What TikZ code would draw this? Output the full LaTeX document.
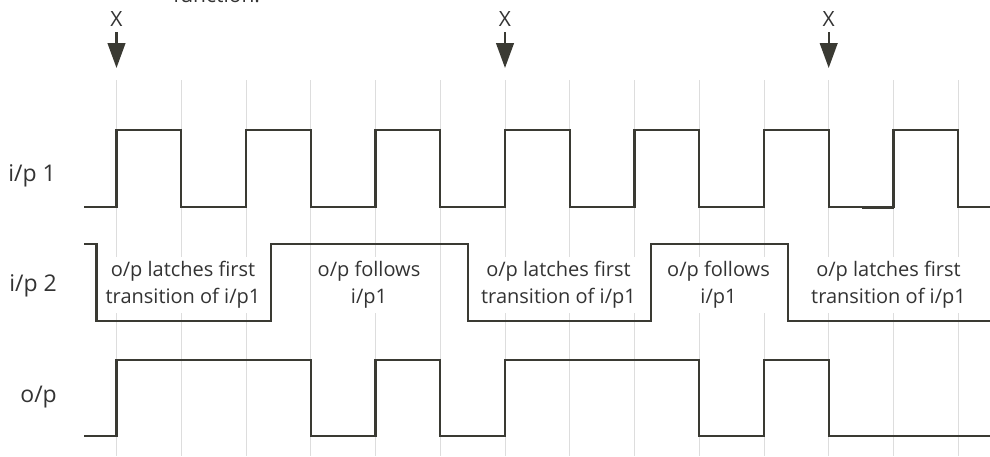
\documentclass[tikz,border=0pt]{standalone}
\usepackage{fontspec}
\setmainfont{Open Sans}
\usetikzlibrary{arrows.meta}
\definecolor{wave}{HTML}{3A3A33}
\definecolor{gridc}{HTML}{DDDDDD}
\definecolor{txt}{HTML}{333333}
\tikzset{
  wavestyle/.style={draw=wave, line width=2.4pt, line join=miter},
  gridline/.style={draw=gridc, line width=1pt},
  xarrow/.style={draw=wave, line width=2.4pt, -{Triangle[length=25pt,width=17.6pt]}},
  lab/.style={text=txt, font=\fontsize{21}{27}\selectfont, inner sep=0pt},
  rowlab/.style={text=txt, font=\fontsize{23}{27}\selectfont, inner sep=0pt},
  blocktxt/.style={text=txt, font=\fontsize{20}{27}\selectfont, align=center, fill=white, inner xsep=3pt, inner ysep=4pt},
}
\begin{document}
\begin{tikzpicture}[x=1pt,y=-1pt]
\useasboundingbox (0,0) rectangle (990,456);
% grid
\foreach \k in {0,...,13}{
  \draw[gridline] ({116.5+64.75*\k},80) -- ({116.5+64.75*\k},456);
}
% cut-off text at top
\node[lab, anchor=base west] (fn) at (173,2) {function.};
% X markers
\foreach \n/\xx in {1/116.5,2/505,3/828.7}{
  \node[lab, anchor=base] (x\n) at (\xx,26) {X};
  \coordinate (t\n) at (\xx,68);
  \draw[xarrow] (\xx,32) -- (t\n);
}
% row labels
\node[rowlab, anchor=base east] (l1) at (56,181) {i/p 1};
\node[rowlab, anchor=base east] (l2) at (57,291) {i/p 2};
\node[rowlab, anchor=base east] (l3) at (57,402) {o/p};
% i/p 1
\draw[wavestyle] (84,207) -- (116.5,207) -- (116.5,130) -- (181.25,130) -- (181.25,207)
  -- (246,207) -- (246,130) -- (310.75,130) -- (310.75,207)
  -- (375.5,207) -- (375.5,130) -- (440.25,130) -- (440.25,207)
  -- (505,207) -- (505,130) -- (569.75,130) -- (569.75,207)
  -- (634.5,207) -- (634.5,130) -- (699.25,130) -- (699.25,207)
  -- (764,207) -- (764,130) -- (828.75,130) -- (828.75,207)
  -- (893.5,207) -- (893.5,130) -- (958.25,130) -- (958.25,207) -- (990,207);
\draw[draw=wave, line width=3pt] (862,207) -- (893.5,207);
% text blocks (white background masks grid)
\node[blocktxt] (b1) at (183,285) {o/p latches first\\transition of i/p1};
\node[blocktxt] (b2) at (369,285) {o/p follows\\i/p1};
\node[blocktxt] (b3) at (558.5,285) {o/p latches first\\transition of i/p1};
\node[blocktxt] (b4) at (718.5,285) {o/p follows\\i/p1};
\node[blocktxt] (b5) at (888.5,285) {o/p latches first\\transition of i/p1};
% i/p 2
\draw[wavestyle] (84,244) -- (96.3,244) -- (96.3,320.7) -- (270.7,320.7) -- (270.7,244)
  -- (467.7,244) -- (467.7,320.7) -- (650.7,320.7) -- (650.7,244)
  -- (787.7,244) -- (787.7,320.7) -- (990,320.7);
% o/p
\draw[wavestyle] (84,436) -- (116.5,436) -- (116.5,360) -- (310.75,360) -- (310.75,436)
  -- (375.5,436) -- (375.5,360) -- (440.25,360) -- (440.25,436)
  -- (505,436) -- (505,360) -- (699.25,360) -- (699.25,436)
  -- (764,436) -- (764,360) -- (828.75,360) -- (828.75,436) -- (990,436);
\end{tikzpicture}
\end{document}
